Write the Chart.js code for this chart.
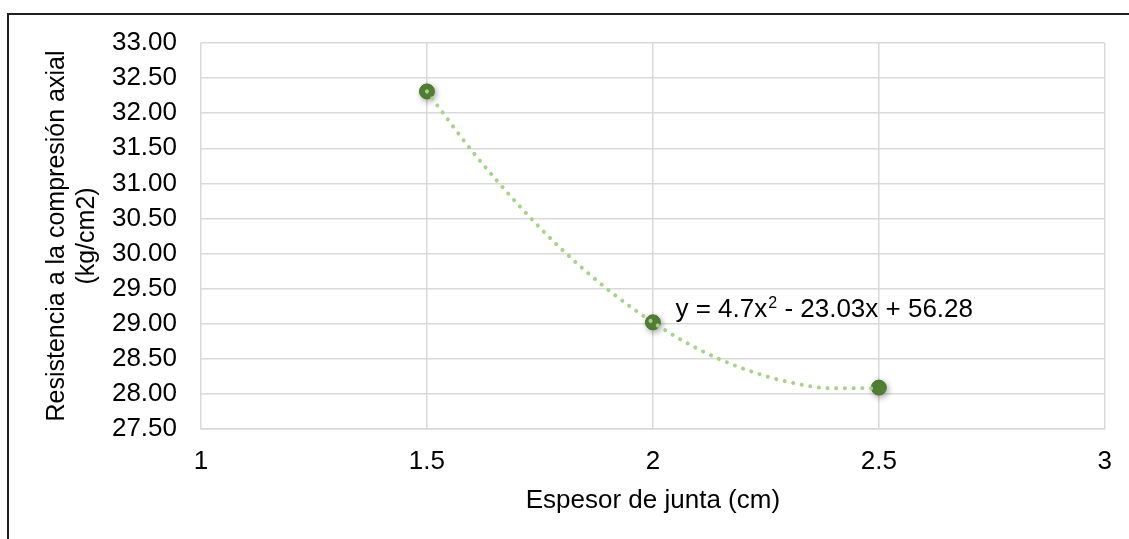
<!DOCTYPE html>
<html>
<head>
<meta charset="utf-8">
<script src="https://cdn.jsdelivr.net/npm/chart.js@4.4.1/dist/chart.umd.min.js"></script>
<style>
  html, body { margin: 0; padding: 0; background: #ffffff; }
  #wrap { position: relative; width: 1129px; height: 539px; overflow: hidden; background: #ffffff; }
  #frame { position: absolute; left: 7px; top: 13px; width: 1200px; height: 600px; border: 2px solid #1f1f1f; pointer-events: none; }
</style>
</head>
<body>
<div id="wrap">
  <canvas id="c"></canvas>
  <div id="frame"></div>
</div>
<script>
// ---- data ----
const espesor = [1.5, 2, 2.5];                 // Espesor de junta (cm)
const resistencia = [32.31, 29.02, 28.09];     // Resistencia (kg/cm2)
const trendX = [1.5, 1.6, 1.7, 1.8, 1.9, 2.0, 2.1, 2.2, 2.3, 2.4, 2.5];
const trendY = [32.31, 31.46, 30.71, 30.05, 29.49, 29.02, 28.64, 28.36, 28.17, 28.08, 28.08];
const equationParts = ['y = 4.7x', '2', ' - 23.03x + 56.28'];
const xTitle = 'Espesor de junta (cm)';
const yTitle = ['Resistencia a la compresión axial', '(kg/cm2)'];
const xTicks = [1, 1.5, 2, 2.5, 3];
const yMin = 27.5, yMax = 33, yStep = 0.5;

const FONT = "'Liberation Sans', Arial, sans-serif";

const shadowPlugin = {
  id: 'markerShadow',
  beforeDatasetDraw(chart, args) {
    if (args.index === 0) {
      const ctx = chart.ctx;
      ctx.save();
      ctx.shadowColor = 'rgba(0,0,0,0.35)';
      ctx.shadowBlur = 6;
      ctx.shadowOffsetX = 1.5;
      ctx.shadowOffsetY = 2;
    }
  },
  afterDatasetDraw(chart, args) {
    if (args.index === 0) chart.ctx.restore();
  }
};

const equationPlugin = {
  id: 'equation',
  afterDatasetsDraw(chart) {
    const ctx = chart.ctx;
    const xs = chart.scales.x, ys = chart.scales.y;
    let x = xs.getPixelForValue(2.05);
    const y = ys.getPixelForValue(29.10);
    ctx.save();
    ctx.fillStyle = '#000000';
    ctx.textBaseline = 'alphabetic';
    ctx.textAlign = 'left';
    ctx.font = '26px ' + FONT;
    ctx.fillText(equationParts[0], x, y);
    x += ctx.measureText(equationParts[0]).width;
    ctx.font = '16px ' + FONT;
    ctx.fillText(equationParts[1], x + 1, y - 9);
    x += ctx.measureText(equationParts[1]).width + 1;
    ctx.font = '26px ' + FONT;
    ctx.fillText(equationParts[2], x, y);
    ctx.restore();
  }
};

new Chart(document.getElementById('c'), {
  type: 'scatter',
  data: {
    datasets: [
      {
        label: 'Resistencia',
        data: espesor.map((v, i) => ({ x: v, y: resistencia[i] })),
        backgroundColor: '#548235',
        borderColor: '#4b7530',
        borderWidth: 1,
        pointRadius: 7.5,
        pointHoverRadius: 7.5,
        showLine: false,
        order: 2
      },
      {
        label: 'Tendencia',
        data: trendX.map((v, i) => ({ x: v, y: trendY[i] })),
        showLine: true,
        borderColor: '#a9d18e',
        borderWidth: 4,
        borderDash: [0.1, 8.6],
        borderCapStyle: 'round',
        cubicInterpolationMode: 'monotone',
        pointRadius: 0,
        pointHoverRadius: 0,
        fill: false,
        order: 1
      }
    ]
  },
  options: {
    responsive: true,
    maintainAspectRatio: false,
    animation: false,
    events: [],
    layout: { padding: { top: 43, right: 24, left: 0, bottom: 0 } },
    plugins: {
      legend: { display: false },
      tooltip: { enabled: false }
    },
    scales: {
      x: {
        type: 'linear',
        min: 1, max: 3,
        afterBuildTicks(scale) { scale.ticks = xTicks.map(v => ({ value: v })); },
        afterFit(scale) { scale.height = 110; },
        grid: { color: '#d9d9d9', lineWidth: 1.5, drawTicks: false },
        border: { color: '#d9d9d9', width: 1.5 },
        ticks: {
          padding: 17,
          color: '#000000',
          font: { family: FONT, size: 26 },
          callback: v => String(v)
        },
        title: {
          display: true,
          text: xTitle,
          color: '#000000',
          font: { family: FONT, size: 26 },
          padding: { top: 0, bottom: 23 }
        }
      },
      y: {
        min: yMin, max: yMax,
        afterFit(scale) { scale.width = 201; },
        grid: { color: '#d9d9d9', lineWidth: 1.5, drawTicks: false },
        border: { display: false },
        ticks: {
          stepSize: yStep,
          padding: 24,
          color: '#000000',
          font: { family: FONT, size: 26 },
          callback: v => Number(v).toFixed(2)
        },
        title: {
          display: true,
          text: yTitle,
          color: '#000000',
          font: { family: FONT, size: 25, lineHeight: 1.2 },
          padding: { top: 42, bottom: 0 }
        }
      }
    }
  },
  plugins: [shadowPlugin, equationPlugin]
});
</script>
</body>
</html>
